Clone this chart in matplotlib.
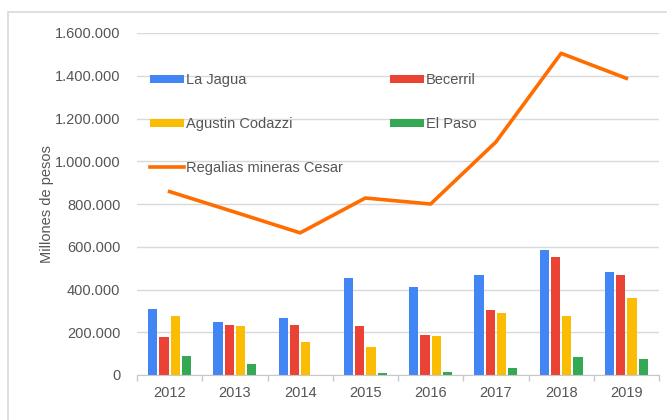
import numpy as np
import matplotlib.pyplot as plt
from matplotlib.patches import Rectangle
from matplotlib.ticker import FuncFormatter

plt.rcParams["font.family"] = ["Liberation Sans", "DejaVu Sans"]

YEARS = ["2012", "2013", "2014", "2015", "2016", "2017", "2018", "2019"]

LA_JAGUA = [307000, 247000, 267000, 454000, 412000, 466000, 585000, 483000]
BECERRIL = [179000, 232000, 236000, 228000, 187000, 304000, 552000, 466000]
CODAZZI = [276000, 228000, 153000, 131000, 183000, 290000, 276000, 360000]
EL_PASO = [89000, 51000, 0, 11000, 14000, 34000, 86000, 75000]
REGALIAS = [858000, 762000, 665000, 828000, 800000, 1090000, 1505000, 1388000]

SERIES = {
    "La Jagua": (LA_JAGUA, "#4285F4"),
    "Becerril": (BECERRIL, "#EA4335"),
    "Agustin Codazzi": (CODAZZI, "#FBBC04"),
    "El Paso": (EL_PASO, "#34A853"),
}

TEXT = "#555555"

fig = plt.figure(figsize=(6.67, 4.2), dpi=100)
ax = fig.add_axes([137 / 667, 1 - 375 / 420, 522 / 667, 342 / 420])

# outer frame of the chart
fig.patches.append(
    Rectangle((8 / 667, -0.05), 1.1, 1 - 11.5 / 420 + 0.05,
              transform=fig.transFigure, fill=False,
              edgecolor="#d9d9d9", linewidth=1.2)
)

x = np.arange(len(YEARS))
slot = 0.173
width = 0.14

handles = {}
for i, (name, (vals, color)) in enumerate(SERIES.items()):
    offset = (i - 1.5) * slot
    handles[name] = ax.bar(x + offset, vals, width=width, color=color,
                           label=name, zorder=3)

line, = ax.plot(x, REGALIAS, color="#FF6D01", linewidth=2.6,
                label="Regalias mineras Cesar", zorder=4)
handles["Regalias mineras Cesar"] = line

ax.set_xlim(-0.5, len(YEARS) - 0.5)
ax.set_ylim(0, 1600000)
ax.set_yticks(np.arange(0, 1600001, 200000))
ax.yaxis.set_major_formatter(
    FuncFormatter(lambda v, p: f"{int(v):,}".replace(",", "."))
)
ax.set_xticks(x)
ax.set_xticklabels(YEARS)

ax.grid(axis="y", color="#d9d9d9", linewidth=1.0, zorder=0)
for s in ["top", "right", "left"]:
    ax.spines[s].set_visible(False)
ax.spines["bottom"].set_color("#c8c8c8")
ax.spines["bottom"].set_zorder(5)

# small category separators below the baseline
ax.set_xticks(np.arange(-0.5, len(YEARS), 1.0), minor=True)
ax.tick_params(axis="x", which="minor", length=4, color="#c8c8c8", width=1)
ax.tick_params(axis="x", which="major", length=0, pad=8,
               labelsize=10.5, labelcolor=TEXT)
ax.tick_params(axis="y", length=0, pad=12, labelsize=10.5, labelcolor=TEXT)

ax.set_ylabel("Millones de pesos", fontsize=10.5, color=TEXT, labelpad=0.6)

order = ["La Jagua", "Agustin Codazzi", "Regalias mineras Cesar",
         "Becerril", "El Paso"]
ax.legend(
    [handles[k] for k in order], order,
    ncol=2, loc="upper left", bbox_to_anchor=(0.0, 0.92),
    frameon=False, fontsize=10.5, labelcolor=TEXT,
    handlelength=2.3, handleheight=0.5, handletextpad=0.15,
    labelspacing=2.03, columnspacing=3.27,
)

fig.savefig("out.png", dpi=100)
